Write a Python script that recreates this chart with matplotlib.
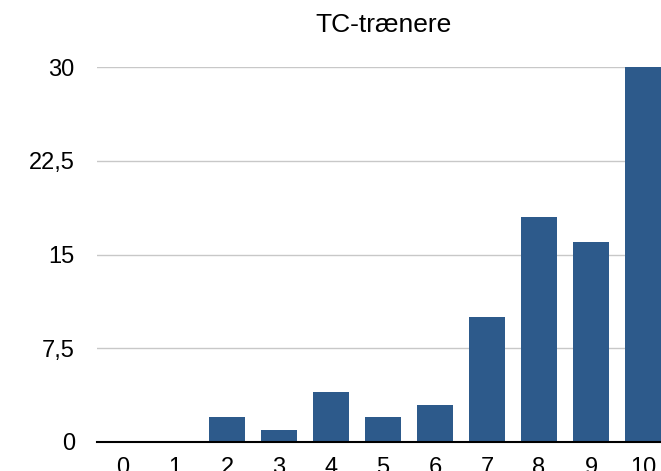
import matplotlib.pyplot as plt
import numpy as np

# score categories and number of answers
categories = ['0', '1', '2', '3', '4', '5', '6', '7', '8', '9', '10']
counts = [0, 0, 2, 1, 4, 2, 3, 10, 18, 16, 30]
yticks = [0, 7.5, 15, 22.5, 30]
ytick_labels = ['0', '7,5', '15', '22,5', '30']

plt.rcParams['font.family'] = ['Liberation Sans', 'DejaVu Sans']

fig = plt.figure(figsize=(6.61, 4.71), dpi=100)
# axes extends slightly past the right edge, like the cropped original
ax = fig.add_axes([97/661, 29/471, 572/661, 375/471])

x = np.arange(len(categories))
ax.bar(x, counts, width=0.7, color='#2d5a8b', zorder=3)

ax.set_xlim(-0.5, len(categories) - 0.5)
ax.set_ylim(0, 30)
ax.set_yticks(yticks)
ax.set_yticklabels(ytick_labels, fontsize=17)
ax.set_xticks(x)
ax.set_xticklabels(categories, fontsize=17)
ax.tick_params(axis='y', length=0, pad=16)
ax.tick_params(axis='x', length=0, pad=11)

ax.grid(axis='y', color='#c8c8c8', linewidth=1, zorder=0)
for s in ['left', 'right', 'top']:
    ax.spines[s].set_visible(False)
ax.spines['bottom'].set_linewidth(1.5)
ax.spines['bottom'].set_zorder(4)

fig.text(383/661, 1 - 25/471, 'TC-trænere', fontsize=19, ha='center', va='center')

fig.savefig('out.png', dpi=100)
